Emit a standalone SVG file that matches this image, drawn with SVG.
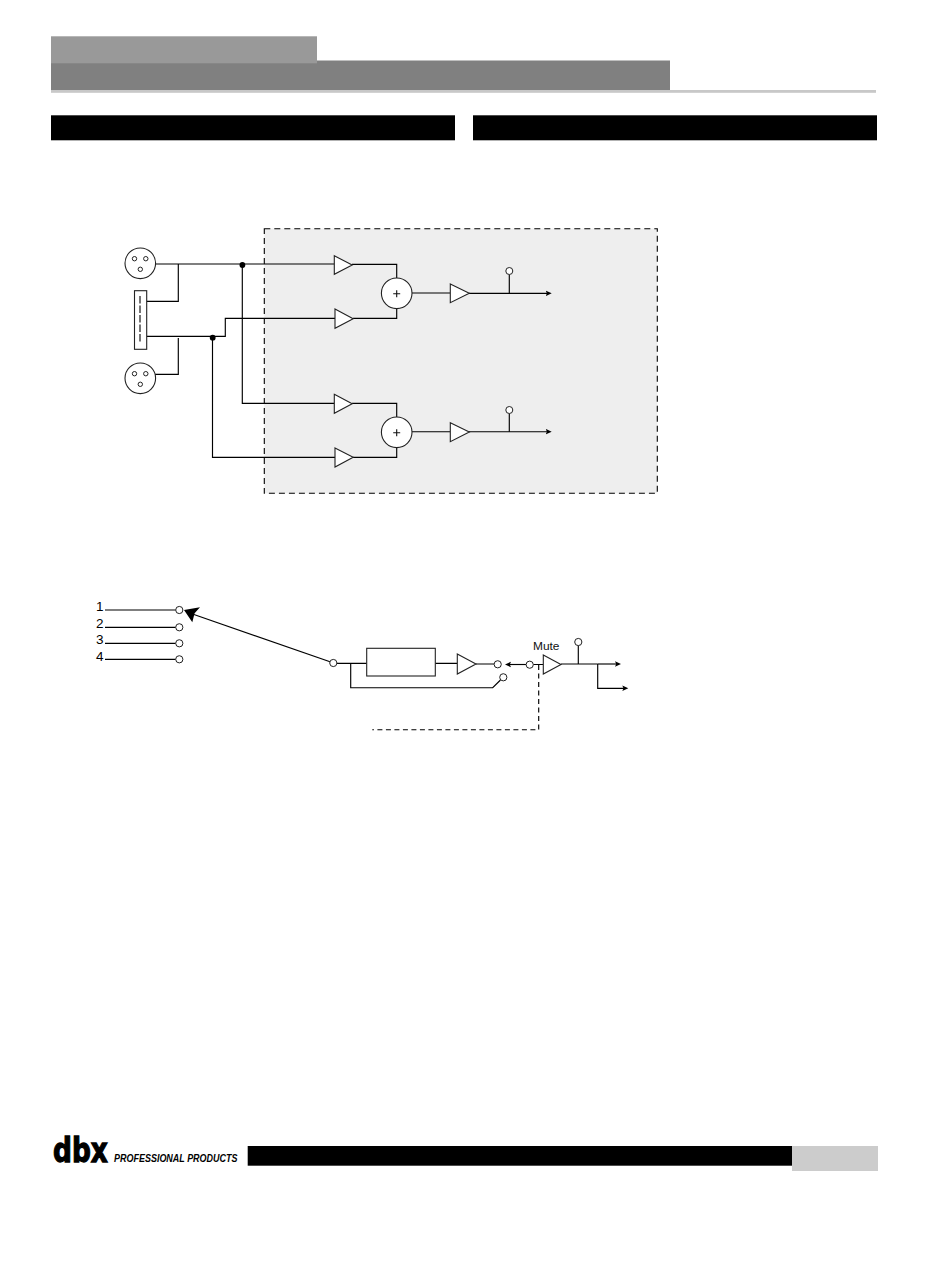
<svg xmlns="http://www.w3.org/2000/svg" width="950" height="1284" viewBox="0 0 950 1284">
<style>
.w{fill:none;stroke:#000;stroke-width:1.15}
.d{fill:none;stroke:#000;stroke-width:1.15;stroke-dasharray:5 3.5}
.n{fill:#fff;stroke:#222;stroke-width:1.1}
.p{fill:#fff;stroke:#222;stroke-width:1}
.t{font-family:"Liberation Sans",Arial,sans-serif;fill:#111}
.a{marker-end:url(#ah)}
</style>
<defs>
<marker id="ah" markerUnits="userSpaceOnUse" markerWidth="8" markerHeight="8" refX="2" refY="3" orient="auto"><path d="M0,0.2 L6,3 L0,5.8 L1.2,3 Z" fill="#000"/></marker>
<g id="xlr"><circle r="15.3" class="n"/><circle cx="-5.8" cy="-4.6" r="2.2" class="p"/><circle cx="5.5" cy="-4.6" r="2.2" class="p"/><circle cx="0" cy="6" r="2.2" class="p"/></g>
<g id="sum"><circle r="15.3" class="n"/><path d="M-3.5,0.5H3.5M0,-3V4" stroke="#111" stroke-width="1.1"/></g>
</defs>
<rect width="950" height="1284" fill="#fff"/>
<g id="header">
<rect x="51" y="60.5" width="619" height="30" fill="#808080"/>
<rect x="51" y="36.3" width="266" height="27" fill="#999"/>
<rect x="51" y="90" width="825" height="2.8" fill="#c8c8c8"/>
<rect x="51" y="115.3" width="404" height="25" fill="#000"/>
<rect x="473" y="115.3" width="404" height="25" fill="#000"/>
</g>
<g id="footer">
<rect x="792" y="1146" width="86" height="25" fill="#ccc"/>
<rect x="247.7" y="1146" width="544.3" height="19.7" fill="#000"/>
<text id="logo" transform="translate(53,1162.3) scale(1,1.3)" x="0" y="0" class="t" style="font-family:'DejaVu Sans',sans-serif;font-weight:bold;fill:#000;stroke:#000;stroke-width:1" font-size="26.4">dbx</text>
<text x="114" y="1162.3" class="t" style="font-weight:bold;font-style:italic;fill:#000" font-size="10.5" textLength="123.5" lengthAdjust="spacingAndGlyphs">PROFESSIONAL PRODUCTS</text>
</g>
<g id="panel"><rect x="264.3" y="228.7" width="393" height="264.6" fill="#eee" stroke="#000" stroke-width="1.1" stroke-dasharray="6 4"/></g>
<g id="connectors">
<path class="w" d="M155,264H334.5M178.3,264V301.3H146.7M146.7,336.3H225.3V318.3H335M155,374.3H178.3V338M242.3,264V403.3H334.5M212.5,336.3V457.3H335"/>
<path class="w" d="M352,264.3H396.7V278M353,318.3H396.7V308M352,403.3H396.7V417M353,457.3H396.7V447"/>
<path class="w" d="M412,293H450.3"/><path class="w a" d="M469,293.3H547.7"/><path class="w" d="M509.3,274.5V293.3"/>
<path class="w" d="M412,431.7H450.3"/><path class="w a" d="M469,431.7H547.7"/><path class="w" d="M509.3,413.5V431.7"/>
<path class="w" d="M105,610H175.8M105,627.3H175.8M105,643.3H175.8M105,659.3H175.8"/>
<path class="w" d="M330,661.7L192.5,614"/>
<polygon points="184,610 200,607.3 194.6,613.2 192.3,622.3" fill="#000"/>
<path class="w" d="M337,663.3H366.7M435.3,663.3H457.3M476,664H494"/>
<path class="w" d="M350.7,663.3V687.7H492.7L500.5,680"/>
<path class="w a" d="M526,664.5H509"/>
<path class="w" d="M533.3,664.5H543.3M561,664H597.7"/>
<path class="w a" d="M597.7,664H617"/>
<path class="w a" d="M597.7,664V688.3H624.3"/>
<path class="w" d="M578.3,645.5V664"/>
<path class="d" d="M538.7,665V729.7H372.3"/>
<circle cx="242.4" cy="265" r="2.9" fill="#000"/>
<circle cx="212.7" cy="337.7" r="2.9" fill="#000"/>
</g>
<use id="xlr-top" href="#xlr" x="140.3" y="263.3"/>
<use id="xlr-bottom" href="#xlr" x="140.3" y="378.3"/>
<g id="switch"><rect x="134.5" y="290.7" width="12.2" height="58.6" class="n"/><path d="M140,296V342.7" stroke="#000" stroke-width="1.1" stroke-dasharray="7.5 2"/></g>
<g id="amps">
<polygon class="n" points="334.3,255.7 352.2,265 334.3,274.3"/>
<polygon class="n" points="335,309 353.2,318.7 335,328.3"/>
<polygon class="n" points="334.3,394.3 352.2,403.7 334.3,413.3"/>
<polygon class="n" points="335,448 353.2,457.3 335,467"/>
<polygon class="n" points="450.3,284 469.3,293.3 450.3,302.7"/>
<polygon class="n" points="450.3,422.7 469.3,432 450.3,441.7"/>
</g>
<use id="sum-top" href="#sum" x="396.7" y="293.3"/>
<use id="sum-bottom" href="#sum" x="396.7" y="432.3"/>
<g id="taps"><circle cx="509.3" cy="271" r="3.5" class="p"/><circle cx="509.3" cy="410" r="3.5" class="p"/></g>
<g id="inputs">
<circle cx="179.3" cy="610" r="3.6" class="p"/><circle cx="179.3" cy="627.3" r="3.6" class="p"/><circle cx="179.3" cy="643.3" r="3.6" class="p"/><circle cx="179.3" cy="659.3" r="3.6" class="p"/>
<text class="t" x="96" y="611" font-size="13.5" style="fill:#000">1</text>
<text class="t" x="96" y="628.4" font-size="13.5" style="fill:#000">2</text>
<text class="t" x="96" y="644.4" font-size="13.5" style="fill:#000">3</text>
<text class="t" x="96" y="660.6" font-size="13.5" style="fill:#000">4</text>
</g>
<g id="chain">
<circle cx="333.3" cy="663" r="3.6" class="p"/>
<rect x="366.7" y="648.3" width="68.6" height="27.7" class="n"/>
<polygon class="n" points="457.3,654 476,664 457.3,674"/>
<circle cx="497.7" cy="664.3" r="3.6" class="p"/>
<circle cx="503.3" cy="677.3" r="3.6" class="p"/>
<circle cx="529.7" cy="664.7" r="3.6" class="p"/>
</g>
<g id="mute">
<polygon class="n" points="543.3,655 561,664.5 543.3,674"/>
<text class="t" x="533" y="650" font-size="11.5" textLength="26.5" lengthAdjust="spacingAndGlyphs">Mute</text>
<circle cx="578.3" cy="642" r="3.6" class="p"/>
</g>
</svg>
